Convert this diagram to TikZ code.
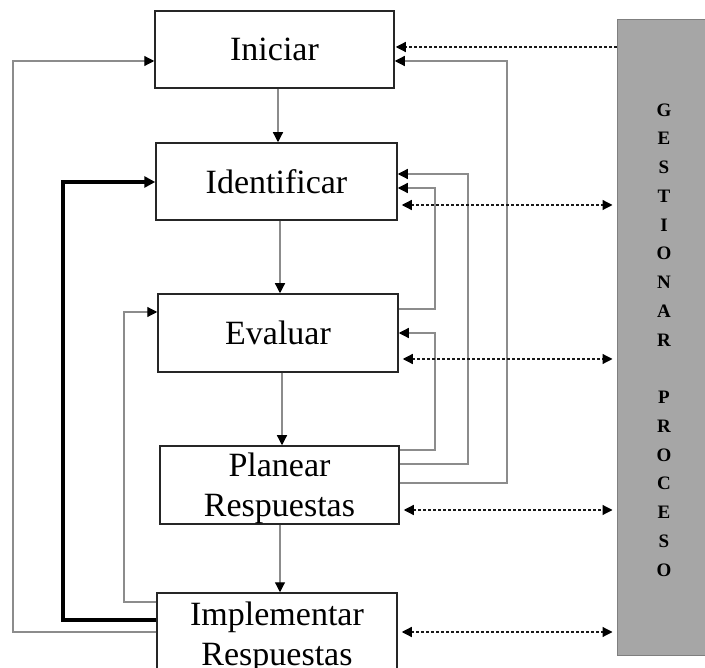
\documentclass[tikz,border=0pt]{standalone}
\usepackage{fontspec}
\setmainfont{Liberation Serif}
\usetikzlibrary{arrows.meta}
\definecolor{linegray}{HTML}{8C8C8C}
\definecolor{panelgray}{HTML}{A6A6A6}
\definecolor{paneledge}{HTML}{7F7F7F}
\begin{document}
\begin{tikzpicture}[x=1pt,y=-1pt,
  stage/.style={draw=black!85,line width=1.5pt,fill=white,align=center,
    inner sep=0pt,text depth=0pt,font=\fontsize{34}{40}\selectfont},
  letter/.style={inner sep=0pt,font=\fontsize{19}{19}\selectfont\bfseries},
  tip/.tip={Triangle[length=10pt,width=10pt,color=black]},
  flow/.style={draw=linegray,line width=1.2pt,-tip},
  thickflow/.style={draw=black,line width=3.5pt,-{Triangle[length=11pt,width=11pt]}},
  link/.style={draw=black!90,line width=1.2pt,dash pattern=on 3pt off 2pt},
  both/.style={link,tip-tip,shorten <=4pt,shorten >=4pt}]
\fill[white] (0,0) rectangle (705,668);
\useasboundingbox (0,0) rectangle (705,668);

% process stages
\node[stage,minimum width=239,minimum height=77] (ini) at (274.5,49.5) {Iniciar};
\node[stage,minimum width=241,minimum height=77] (ide) at (276.5,181.5) {Identificar};
\node[stage,minimum width=240,minimum height=78] (eva) at (278,333) {Evaluar};
\node[stage,minimum width=239,minimum height=78] (pla) at (279.5,485) {Planear\\Respuestas};
\node[stage,minimum width=240,minimum height=82] (imp) at (277,634) {Implementar\\Respuestas};

% management panel
\node[draw=paneledge,fill=panelgray,line width=1pt,minimum width=89,minimum height=635,inner sep=0pt] (gp) at (661.5,337.5) {};
\foreach \ch [count=\i from 0] in {G,E,S,T,I,O,N,A,R}
  \node[letter] (ga\i) at (664,{110+28.75*\i}) {\ch};
\foreach \ch [count=\i from 0] in {P,R,O,C,E,S,O}
  \node[letter] (gb\i) at (664,{397.5+28.75*\i}) {\ch};

% main sequence
\draw[flow] (ini.south -| 278,0) -- (ide.north -| 278,0);
\draw[flow] (ide.south -| 280,0) -- (eva.north -| 280,0);
\draw[flow] (eva.south -| 282,0) -- (pla.north -| 282,0);
\draw[flow] (pla.south -| 280,0) -- (imp.north -| 280,0);

% feedback from implementation
\draw[flow] (imp.west |- 0,632) -- (13,632) |- (ini.west |- 0,61);
\draw[thickflow] (imp.west |- 0,620) -- (63,620) |- (ide.west |- 0,182);
\draw[flow] (imp.west |- 0,602) -- (124,602) |- (eva.west |- 0,312);

% feedback on the right
\draw[flow] (pla.east |- 0,483) -- (507,483) |- (ini.east |- 0,61);
\draw[flow] (pla.east |- 0,464) -- (468,464) |- (ide.east |- 0,174);
\draw[flow] (pla.east |- 0,450) -- (435,450) |- (eva.east |- 0,333);
\draw[flow] (eva.east |- 0,309) -- (435,309) |- (ide.east |- 0,188);

% links with the management panel
\draw[link,-tip,shorten >=1pt] (gp.west |- 0,47) -- (ini.east |- 0,47);
\draw[both] (ide.east |- 0,205) -- (gp.west |- 0,205);
\draw[both] (eva.east |- 0,359) -- (gp.west |- 0,359);
\draw[both] (pla.east |- 0,510) -- (gp.west |- 0,510);
\draw[both] (imp.east |- 0,632) -- (gp.west |- 0,632);
\end{tikzpicture}
\end{document}
